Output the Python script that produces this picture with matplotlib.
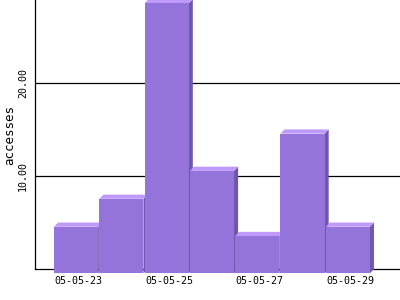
import matplotlib
matplotlib.use("Agg")
import matplotlib.pyplot as plt
from matplotlib.patches import Polygon

dates = ["05-05-23", "05-05-24", "05-05-25", "05-05-26", "05-05-27", "05-05-28", "05-05-29"]
accesses = [5, 8, 29, 11, 4, 15, 5]
shown_labels = ["05-05-23", "05-05-25", "05-05-27", "05-05-29"]

front_col = "#9473db"
top_col = "#bf99fb"
side_col = "#6f57a9"

fig = plt.figure(figsize=(4, 3), dpi=100)
ax = fig.add_axes([0.0875, 0.103, 0.9125, 0.897])
ax.set_xlim(-0.42, 7.64)
ax.set_ylim(0, 28.9)

# 3d depth in data units (about 4 px each way)
dx = 0.09
dy = 0.45
w = 0.975

for i, v in enumerate(accesses):
    x0 = i
    side = Polygon([(x0 + w, -dy), (x0 + w + dx, 0), (x0 + w + dx, v), (x0 + w, v - dy)],
                   closed=True, facecolor=side_col, edgecolor="none", zorder=3, clip_on=False)
    top = Polygon([(x0, v - dy), (x0 + dx, v), (x0 + w + dx, v), (x0 + w, v - dy)],
                  closed=True, facecolor=top_col, edgecolor="none", zorder=3, clip_on=False)
    ax.add_patch(side)
    ax.add_patch(top)
    ax.bar([x0], [v], width=w, bottom=-dy, align="edge", color=front_col,
           edgecolor="none", zorder=3, clip_on=False)

for y in [10, 20]:
    ax.axhline(y, color="black", linewidth=0.9, zorder=1)

ax.spines["top"].set_visible(False)
ax.spines["right"].set_visible(False)
ax.spines["left"].set_linewidth(0.9)
ax.spines["bottom"].set_linewidth(0.9)
ax.spines["left"].set_zorder(2)
ax.spines["bottom"].set_zorder(2)

tick_pos = [dates.index(d) + 0.5 + dx / 2 for d in shown_labels]
ax.set_xticks(tick_pos)
ax.set_xticklabels(shown_labels, family="DejaVu Sans Mono", fontsize=7.2)
ax.set_yticks([10, 20])
ax.set_yticklabels(["10.00", "20.00"], family="DejaVu Sans Mono", fontsize=7.2,
                   rotation=90, va="center")
ax.tick_params(axis="both", length=0)
ax.tick_params(axis="x", pad=5)
ax.tick_params(axis="y", pad=5)
ax.set_ylabel("accesses", family="DejaVu Sans Mono", fontsize=9, labelpad=1)

fig.savefig("out.png", dpi=100)
